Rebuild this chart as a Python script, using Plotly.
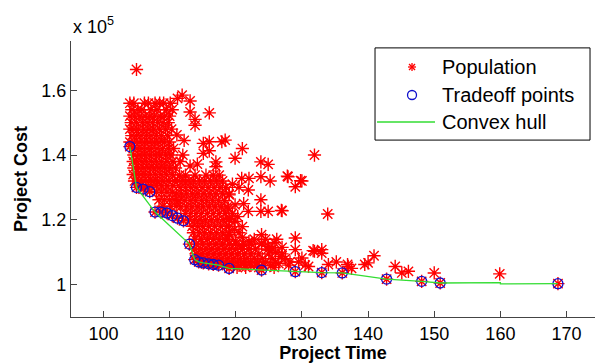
import plotly.graph_objects as go

# ---------------- data (cost in units of 1e5) ----------------
trade_time = [104.0, 105.0, 106.0, 107.0, 107.8, 108.7, 109.6, 110.4, 111.2, 112.1,
              113.0, 113.8, 114.4, 115.1, 115.9, 116.6, 117.4, 119.0, 123.9, 129.0,
              133.0, 136.1, 142.8, 148.1, 150.9, 168.7]
trade_cost = [1.426, 1.300, 1.295, 1.287, 1.224, 1.224, 1.221, 1.213, 1.205, 1.197,
              1.125, 1.077, 1.070, 1.067, 1.064, 1.062, 1.060, 1.050, 1.045, 1.040,
              1.037, 1.036, 1.017, 1.010, 1.005, 1.003]

hull_time = [104.0, 105.0, 107.8, 113.0, 113.8, 114.4, 115.1, 115.9, 116.6, 117.4,
             119.0, 123.9, 129.0, 133.0, 136.1, 142.8, 148.1, 150.9, 160.0, 160.0, 168.7]
hull_cost = [1.426, 1.300, 1.224, 1.125, 1.077, 1.070, 1.067, 1.064, 1.062, 1.060,
             1.050, 1.045, 1.040, 1.037, 1.036, 1.017, 1.010, 1.005, 1.006, 1.002, 1.003]

pop_time = [
    # scattered upper points
    105.0, 111.9, 113.1, 111.2, 113.1, 113.85, 113.85, 116.0, 111.1, 112.2,
    115.1, 116.0, 117.9, 115.1, 116.0, 117.0, 117.0, 113.1, 112.0, 111.6,
    114.2, 118.4, 121.0, 119.9, 123.8, 124.9, 131.9,
    # dense upper-left block
    104.0, 104.6, 106.2, 106.8, 107.8, 108.5, 109.1, 110.1,
    104.3, 105.2, 105.8, 107.2, 108.1, 109.5, 110.4,
    104.0, 104.7, 105.5, 106.3, 107.0, 107.7, 108.6, 109.2, 110.0,
    104.2, 105.0, 105.9, 106.6, 107.4, 108.2, 109.0, 109.8,
    104.0, 104.6, 105.3, 106.1, 106.9, 107.6, 108.5, 109.4, 110.3,
    104.3, 105.0, 105.7, 106.5, 107.2, 108.0, 108.8, 109.7,
    104.0, 104.7, 105.4, 106.2, 106.9, 107.7, 108.4, 109.2, 110.0,
    104.5, 105.1, 105.8, 106.6, 107.3, 108.1, 108.9, 109.8, 110.6,
    104.6, 105.4, 106.2, 107.0, 107.8, 108.5, 109.4, 110.2,
    104.5, 105.0, 105.8, 106.5, 107.3, 108.0, 108.8, 109.6, 110.5,
    104.6, 105.3, 106.1, 106.9, 107.6, 108.4, 109.2, 110.0, 110.9,
    104.5, 105.0, 105.7, 106.4, 107.1, 107.9, 108.7, 109.5, 110.4,
    104.7, 105.3, 106.0, 106.8, 107.5, 108.2, 109.0, 109.9, 110.8,
    105.6, 106.4, 107.2, 108.0, 108.8, 109.6, 110.5,
    # just above the tradeoff points
    108.0, 108.8, 109.6, 110.4,
    108.4, 109.2, 110.0, 110.8,
    109.0, 110.2, 111.0,
    # middle dense block
    111.5, 112.4, 113.85, 115.5, 116.6, 117.5,
    111.2, 112.0, 112.8, 113.6, 114.5, 115.3, 116.2, 117.1, 118.0,
    111.6, 112.4, 113.2, 114.0, 114.9, 115.8, 116.7, 117.6, 118.5,
    111.0, 111.8, 112.6, 113.5, 114.3, 115.2, 116.1, 117.0, 118.0, 119.0,
    111.4, 112.2, 113.1, 113.9, 114.8, 115.6, 116.5, 117.4, 118.3,
    111.7, 112.6, 113.4, 114.3, 115.1, 116.0, 116.9, 117.8, 118.7,
    112.4, 113.2, 114.0, 114.8, 115.7, 116.6, 117.5, 118.4,
    113.0, 113.8, 114.6, 115.4, 116.3, 117.2, 118.1, 119.0,
    113.4, 114.2, 115.0, 115.9, 116.8, 117.7, 118.6,
    113.6, 114.5, 115.3, 116.2, 117.1, 118.0, 119.0,
    113.8, 114.8, 115.7, 116.6, 117.5, 118.4,
    # right of the middle block
    120.9, 122.0, 123.8, 125.2, 127.9, 130.0, 129.0, 121.9, 119.0, 123.8,
    119.9, 118.9, 121.9, 123.8, 124.9, 127.0, 133.9, 119.0, 119.9, 119.0,
    121.0, 119.0, 121.0, 123.9, 122.0, 123.9, 129.0, 127.8, 129.8, 126.9,
    120.5, 119.5, 121.2, 119.5, 120.3, 119.8, 120.5, 118.8, 120.0, 121.0,
    122.8, 124.5, 126.2, 125.8,
    # lower dense band
    114.0, 115.0, 116.0, 117.0, 118.0, 119.0, 120.0, 121.2, 122.4, 123.9,
    113.8, 114.6, 115.5, 116.4, 117.3, 118.2, 119.1, 120.0, 121.0, 122.0, 123.0, 124.9,
    114.0, 114.9, 115.8, 116.7, 117.6, 118.5, 119.4, 120.3, 121.3, 122.3, 123.5, 125.0,
    114.3, 115.2, 116.1, 117.0, 117.9, 118.8, 119.7, 120.7, 121.7, 122.8, 124.0, 125.5,
    114.8, 115.7, 116.6, 117.5, 118.4, 119.3, 120.2, 121.2, 122.2, 123.3, 124.5, 126.0,
    118.6, 119.6, 120.5, 121.4, 122.3, 123.2, 124.2, 125.3,
    120.2, 121.5, 123.5, 125.8,
    # sparse tail
    129.0, 124.9, 131.9, 133.0, 133.0, 134.0, 130.0, 131.0, 137.0, 136.9,
    139.5, 131.7, 140.9, 140.0, 144.1, 145.1, 146.1, 150.0, 159.9, 126.9,
    126.0, 127.0, 127.5, 128.2, 129.5, 126.5, 128.0, 130.5, 125.5, 127.0,
    137.5, 135.2,
]

pop_cost = [
    # scattered upper points
    1.664, 1.585, 1.567, 1.575, 1.533, 1.510, 1.492, 1.530, 1.462, 1.445,
    1.436, 1.441, 1.441, 1.405, 1.413, 1.379, 1.364, 1.366, 1.400, 1.380,
    1.372, 1.446, 1.420, 1.390, 1.379, 1.371, 1.400,
    # dense upper-left block
    1.560, 1.560, 1.560, 1.560, 1.560, 1.560, 1.560, 1.560,
    1.540, 1.540, 1.540, 1.540, 1.540, 1.540, 1.540,
    1.520, 1.520, 1.520, 1.520, 1.520, 1.520, 1.520, 1.520, 1.520,
    1.500, 1.500, 1.500, 1.500, 1.500, 1.500, 1.500, 1.500,
    1.480, 1.480, 1.480, 1.480, 1.480, 1.480, 1.480, 1.480, 1.480,
    1.460, 1.460, 1.460, 1.460, 1.460, 1.460, 1.460, 1.460,
    1.440, 1.440, 1.440, 1.440, 1.440, 1.440, 1.440, 1.440, 1.440,
    1.420, 1.420, 1.420, 1.420, 1.420, 1.420, 1.420, 1.420, 1.420,
    1.400, 1.400, 1.400, 1.400, 1.400, 1.400, 1.400, 1.400,
    1.380, 1.380, 1.380, 1.380, 1.380, 1.380, 1.380, 1.380, 1.380,
    1.360, 1.360, 1.360, 1.360, 1.360, 1.360, 1.360, 1.360, 1.360,
    1.340, 1.340, 1.340, 1.340, 1.340, 1.340, 1.340, 1.340, 1.340,
    1.320, 1.320, 1.320, 1.320, 1.320, 1.320, 1.320, 1.320, 1.320,
    1.305, 1.305, 1.305, 1.305, 1.305, 1.305, 1.305,
    # just above the tradeoff points
    1.285, 1.285, 1.285, 1.285,
    1.262, 1.262, 1.262, 1.262,
    1.242, 1.242, 1.242,
    # middle dense block
    1.338, 1.338, 1.338, 1.338, 1.338, 1.338,
    1.320, 1.320, 1.320, 1.320, 1.320, 1.320, 1.320, 1.320, 1.320,
    1.300, 1.300, 1.300, 1.300, 1.300, 1.300, 1.300, 1.300, 1.300,
    1.280, 1.280, 1.280, 1.280, 1.280, 1.280, 1.280, 1.280, 1.280, 1.280,
    1.260, 1.260, 1.260, 1.260, 1.260, 1.260, 1.260, 1.260, 1.260,
    1.240, 1.240, 1.240, 1.240, 1.240, 1.240, 1.240, 1.240, 1.240,
    1.220, 1.220, 1.220, 1.220, 1.220, 1.220, 1.220, 1.220,
    1.200, 1.200, 1.200, 1.200, 1.200, 1.200, 1.200, 1.200,
    1.180, 1.180, 1.180, 1.180, 1.180, 1.180, 1.180,
    1.160, 1.160, 1.160, 1.160, 1.160, 1.160, 1.160,
    1.140, 1.140, 1.140, 1.140, 1.140, 1.140,
    # right of the middle block
    1.328, 1.328, 1.333, 1.320, 1.333, 1.320, 1.302, 1.292, 1.277, 1.262,
    1.246, 1.236, 1.226, 1.226, 1.226, 1.228, 1.218, 1.205, 1.195, 1.180,
    1.179, 1.154, 1.146, 1.154, 1.133, 1.128, 1.144, 1.335, 1.321, 1.229,
    1.300, 1.310, 1.250, 1.220, 1.210, 1.170, 1.160, 1.140, 1.135, 1.120,
    1.140, 1.140, 1.140, 1.130,
    # lower dense band
    1.125, 1.125, 1.125, 1.125, 1.125, 1.125, 1.125, 1.125, 1.125, 1.125,
    1.110, 1.110, 1.110, 1.110, 1.110, 1.110, 1.110, 1.110, 1.110, 1.110, 1.110, 1.110,
    1.095, 1.095, 1.095, 1.095, 1.095, 1.095, 1.095, 1.095, 1.095, 1.095, 1.095, 1.095,
    1.080, 1.080, 1.080, 1.080, 1.080, 1.080, 1.080, 1.080, 1.080, 1.080, 1.080, 1.080,
    1.069, 1.069, 1.069, 1.069, 1.069, 1.069, 1.069, 1.069, 1.069, 1.069, 1.069, 1.069,
    1.059, 1.059, 1.059, 1.059, 1.059, 1.059, 1.059, 1.059,
    1.053, 1.053, 1.053, 1.053,
    # sparse tail
    1.108, 1.118, 1.103, 1.108, 1.097, 1.062, 1.082, 1.056, 1.056, 1.062,
    1.062, 1.105, 1.089, 1.067, 1.056, 1.036, 1.041, 1.036, 1.033, 1.087,
    1.100, 1.095, 1.080, 1.070, 1.070, 1.065, 1.060, 1.060, 1.110, 1.115,
    1.050, 1.070,
]

assert len(pop_time) == len(pop_cost), (len(pop_time), len(pop_cost))

x_ticks = [100, 110, 120, 130, 140, 150, 160, 170]
y_ticks = [1.0, 1.2, 1.4, 1.6]
y_tick_labels = ["1", "1.2", "1.4", "1.6"]
legend_labels = ["Population", "Tradeoff points", "Convex hull"]

RED = "#ff0000"
BLUE = "#1010cc"
GREEN = "#33dd33"
FONT = "Arial, 'Liberation Sans', Helvetica, sans-serif"

fig = go.Figure()
fig.add_trace(go.Scatter(
    x=pop_time + trade_time, y=pop_cost + trade_cost, mode="markers", name=legend_labels[0],
    showlegend=False,
    marker=dict(symbol="asterisk-open", size=11, color=RED,
                line=dict(color=RED, width=1.4))))
fig.add_trace(go.Scatter(
    x=trade_time, y=trade_cost, mode="markers", name=legend_labels[1],
    showlegend=False,
    marker=dict(symbol="circle-open", size=10, color=BLUE,
                line=dict(color=BLUE, width=1.3))))
fig.add_trace(go.Scatter(
    x=hull_time, y=hull_cost, mode="lines", name=legend_labels[2],
    showlegend=False,
    line=dict(color=GREEN, width=1.3)))

axis_common = dict(showgrid=False, zeroline=False, showline=True, linecolor="#444444",
                   linewidth=1.4, ticks="inside", ticklen=6, tickcolor="#444444",
                   tickwidth=1, mirror=False,
                   tickfont=dict(family=FONT, size=18, color="black"))

# ---- legend box drawn in layout (paper coordinates) ----
L_X0, L_X1, L_Y0, L_Y1 = 0.5802, 0.9905, 0.641, 0.975
ROW_Y = [0.9058, 0.8043, 0.7065]
SYM_X = 0.6508
TEXT_X = 0.7042

shapes = [dict(type="rect", xref="paper", yref="paper", x0=L_X0, x1=L_X1, y0=L_Y0, y1=L_Y1,
               line=dict(color="black", width=1), fillcolor="white", layer="above")]
# asterisk sample
for (dx0, dy0, dx1, dy1) in [(-4, 0, 4, 0), (0, -4, 0, 4), (-3, -3, 3, 3), (-3, 3, 3, -3)]:
    shapes.append(dict(type="line", xref="paper", yref="paper", xsizemode="pixel",
                       ysizemode="pixel", xanchor=SYM_X, yanchor=ROW_Y[0],
                       x0=dx0, x1=dx1, y0=dy0, y1=dy1, layer="above",
                       line=dict(color=RED, width=1.3)))
# circle sample
shapes.append(dict(type="circle", xref="paper", yref="paper", xsizemode="pixel",
                   ysizemode="pixel", xanchor=SYM_X, yanchor=ROW_Y[1],
                   x0=-4.5, x1=4.5, y0=-4.5, y1=4.5, layer="above",
                   line=dict(color=BLUE, width=1.3)))
# line sample
shapes.append(dict(type="line", xref="paper", yref="paper", x0=0.5840, x1=0.6947,
                   y0=ROW_Y[2], y1=ROW_Y[2], layer="above",
                   line=dict(color=GREEN, width=1.3)))

annotations = [dict(text="x 10<sup>5</sup>", xref="paper", yref="paper", x=0, y=1,
                    xanchor="left", yanchor="bottom", yshift=2, showarrow=False,
                    font=dict(family=FONT, size=18, color="black"))]
for lab, ry in zip(legend_labels, ROW_Y):
    annotations.append(dict(text=lab, xref="paper", yref="paper", x=TEXT_X, y=ry,
                            xanchor="left", yanchor="middle", showarrow=False,
                            font=dict(family=FONT, size=20, color="black")))

fig.update_layout(
    width=595, height=363,
    margin=dict(l=71, r=0, t=41, b=46, pad=0),
    paper_bgcolor="white", plot_bgcolor="white",
    font=dict(family=FONT, color="black"),
    xaxis=dict(range=[95.1, 174.3], tickvals=x_ticks,
               title=dict(text="<b>Project Time</b>", font=dict(family=FONT, size=18),
                          standoff=2),
               **axis_common),
    yaxis=dict(range=[0.9, 1.752], tickvals=y_ticks, ticktext=y_tick_labels,
               title=dict(text="<b>Project Cost</b>", font=dict(family=FONT, size=18),
                          standoff=8),
               **axis_common),
    showlegend=False,
    shapes=shapes,
    annotations=annotations,
)

fig.write_html("out.html")
